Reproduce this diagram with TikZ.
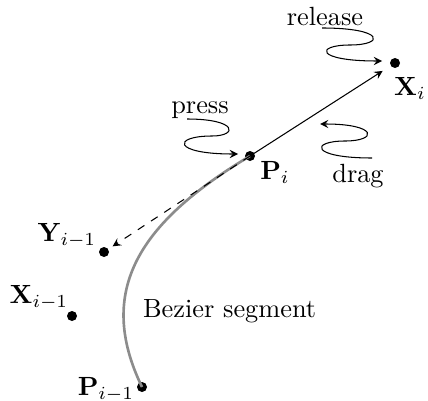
\documentclass[tikz,border=0pt]{standalone}
\usepackage{amsmath, amssymb}
\usepackage{tikz}

\tikzset{
  dot/.style={circle, fill, inner sep=0pt, minimum size=3.8pt},
  squig/.style={->, thin},
}

\begin{document}
\begin{tikzpicture}[>=stealth, scale=0.534]
  \useasboundingbox (0,0) rectangle (10.7,10);
  % control points and end points
  \node[dot] (Xi) at (9.875, 8.425) {};
  \node[dot] (Pi) at (6.25, 6.1) {};
  \node[dot] (Yim) at (2.6, 3.7) {};
  \node[dot] (Xim) at (1.8, 2.1) {};
  \node[dot] (Pim) at (3.55, 0.325) {};
  \node (lXi) at (10.25, 7.8) {$\mathbf{X}_i$};
  \node (lPi) at (6.875, 5.7) {$\mathbf{P}_i$};
  \node (lYim) at (1.675, 4.1) {$\mathbf{Y}_{i-1}$};
  \node (lXim) at (0.975, 2.55) {$\mathbf{X}_{i-1}$};
  \node (lPim) at (2.65, 0.25) {$\mathbf{P}_{i-1}$};
  % the segment
  \draw[gray!90, line width=1pt] (Pim.center) .. controls (2.375, 2.75) and (3.5, 4.45) .. (Pi.center);
  \node (seg) at (5.74, 2.225) {Bezier segment};
  % tangent handles
  \draw[->, thin, shorten >=3.5pt] (Pi.center) -- (Xi);
  \draw[->, thin, dashed, shorten >=1.8pt] (Pi.center) -- (Yim);
  % mouse events
  \node (press) at (5.0, 7.25) {press};
  \draw[squig] (4.675, 7.025) .. controls (5.95, 7.025) and (5.95, 6.6) .. (5.3, 6.6)
    .. controls (4.3, 6.6) and (4.3, 6.15) .. (5.95, 6.15);
  \node (release) at (8.125, 9.575) {release};
  \draw[squig] (8.05, 9.3) .. controls (9.625, 9.3) and (9.625, 8.875) .. (8.75, 8.875)
    .. controls (7.875, 8.875) and (7.875, 8.475) .. (9.55, 8.475);
  \node (drag) at (8.95, 5.6) {drag};
  \draw[squig] (9.3, 6.05) .. controls (7.75, 6.05) and (7.75, 6.475) .. (8.625, 6.475)
    .. controls (9.45, 6.475) and (9.45, 6.9) .. (8.0, 6.9);
\end{tikzpicture}
\end{document}
